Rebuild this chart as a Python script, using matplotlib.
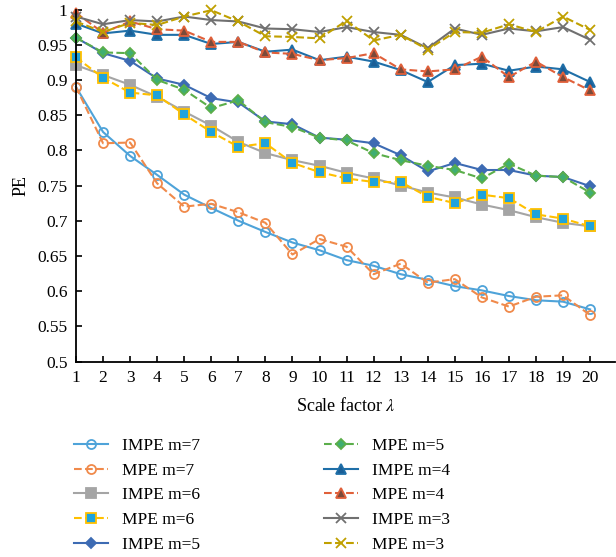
import numpy as np
import matplotlib
matplotlib.use("Agg")
import matplotlib.pyplot as plt

plt.rcParams["font.family"] = ["Liberation Serif", "DejaVu Serif"]
plt.rcParams["mathtext.fontset"] = "stix"

# ── data ───────────────────────────────────────────────────────────────────
scales = list(range(1, 21))

impe_m7 = [0.890, 0.826, 0.792, 0.765, 0.737, 0.718, 0.700, 0.684, 0.669, 0.658,
           0.644, 0.636, 0.624, 0.616, 0.607, 0.601, 0.593, 0.587, 0.585, 0.574]
mpe_m7 = [0.890, 0.810, 0.811, 0.753, 0.720, 0.724, 0.712, 0.697, 0.652, 0.674,
          0.663, 0.624, 0.639, 0.612, 0.617, 0.591, 0.578, 0.592, 0.594, 0.566]
impe_m6 = [0.921, 0.907, 0.893, 0.876, 0.855, 0.835, 0.812, 0.796, 0.786, 0.778,
           0.768, 0.760, 0.750, 0.740, 0.733, 0.723, 0.715, 0.705, 0.697, 0.692]
mpe_m6 = [0.932, 0.903, 0.882, 0.878, 0.851, 0.826, 0.805, 0.810, 0.782, 0.769,
          0.760, 0.755, 0.755, 0.734, 0.725, 0.737, 0.732, 0.709, 0.703, 0.692]
impe_m5 = [0.960, 0.938, 0.927, 0.902, 0.893, 0.874, 0.868, 0.841, 0.837, 0.818,
           0.815, 0.810, 0.793, 0.770, 0.782, 0.772, 0.772, 0.764, 0.762, 0.749]
mpe_m5 = [0.960, 0.939, 0.938, 0.900, 0.886, 0.860, 0.871, 0.840, 0.833, 0.818,
          0.814, 0.796, 0.786, 0.778, 0.772, 0.760, 0.781, 0.764, 0.762, 0.740]
impe_m4 = [0.980, 0.966, 0.970, 0.964, 0.964, 0.951, 0.954, 0.940, 0.943, 0.928,
           0.933, 0.926, 0.914, 0.897, 0.921, 0.923, 0.913, 0.919, 0.915, 0.897]
mpe_m4 = [0.995, 0.967, 0.983, 0.972, 0.970, 0.954, 0.954, 0.939, 0.937, 0.928,
          0.931, 0.938, 0.915, 0.912, 0.915, 0.933, 0.904, 0.926, 0.904, 0.885]
impe_m3 = [0.990, 0.979, 0.985, 0.983, 0.990, 0.985, 0.983, 0.973, 0.972, 0.968,
           0.975, 0.968, 0.964, 0.945, 0.973, 0.964, 0.973, 0.969, 0.975, 0.957]
mpe_m3 = [0.983, 0.968, 0.981, 0.978, 0.990, 0.999, 0.983, 0.962, 0.961, 0.959,
          0.984, 0.956, 0.964, 0.943, 0.968, 0.967, 0.979, 0.968, 0.990, 0.971]

labels = ["IMPE m=7", "MPE m=7", "IMPE m=6", "MPE m=6", "IMPE m=5",
          "MPE m=5", "IMPE m=4", "MPE m=4", "IMPE m=3", "MPE m=3"]
series = [impe_m7, mpe_m7, impe_m6, mpe_m6, impe_m5,
          mpe_m5, impe_m4, mpe_m4, impe_m3, mpe_m3]

yticks = [0.5, 0.55, 0.6, 0.65, 0.7, 0.75, 0.8, 0.85, 0.9, 0.95, 1.0]
ytick_labels = ["0.5", "0.55", "0.6", "0.65", "0.7", "0.75", "0.8", "0.85",
                "0.9", "0.95", "1"]

# ── styles: (line colour, linestyle, marker, face, edge) ───────────────────
styles = [
    ("#4ea3d9", "-",  "o", "none",    "#4ea3d9"),
    ("#f08a4b", "--", "o", "none",    "#f08a4b"),
    ("#a5a5a5", "-",  "s", "#a5a5a5", "#a5a5a5"),
    ("#ffc000", "--", "s", "#1fa3dc", "#ffc000"),
    ("#3d6bb3", "-",  "D", "#3d6bb3", "#3d6bb3"),
    ("#5bae4a", "--", "D", "#3fae72", "#5bae4a"),
    ("#1f6fa8", "-",  "^", "#1a5e96", "#1f6fa8"),
    ("#e0603a", "--", "^", "#7a4a3a", "#e0603a"),
    ("#707070", "-",  "x", "#707070", "#707070"),
    ("#c0a000", "--", "x", "#c0a000", "#c0a000"),
]

fig = plt.figure(figsize=(6.16, 5.57), dpi=100)
ax = fig.add_axes([76 / 616, 1 - 361.5 / 557, 539 / 616, 352 / 557])

for vals, lab, (c, ls, mk, fc, ec) in zip(series, labels, styles):
    ms = 7 if mk == "x" else (5.5 if mk == "D" else 6.5)
    ax.plot(scales, vals, color=c, ls=ls, lw=1.5, marker=mk, ms=ms,
            mfc=fc, mec=ec, mew=1.3, label=lab, clip_on=False)

ax.set_xlim(1, 20.92)
ax.set_ylim(0.5, 1.0)
ax.set_xticks(scales)
ax.set_yticks(yticks)
ax.set_yticklabels(ytick_labels)
ax.tick_params(direction="in", labelsize=12.5, length=4, width=1.2, pad=6)
for s in ["top", "right"]:
    ax.spines[s].set_visible(False)
for s in ["left", "bottom"]:
    ax.spines[s].set_linewidth(1.3)

ax.set_xlabel(r"Scale factor $\lambda$", fontsize=13, labelpad=8)
ax.set_ylabel("PE", fontsize=13, labelpad=6)

fig.legend(loc="upper left", bbox_to_anchor=(58 / 616, 1 - 422 / 557),
           ncol=2, frameon=False, fontsize=12.5, handlelength=2.0,
           handletextpad=0.8, labelspacing=0.5, columnspacing=7.1)

fig.savefig("out.png", dpi=100)
